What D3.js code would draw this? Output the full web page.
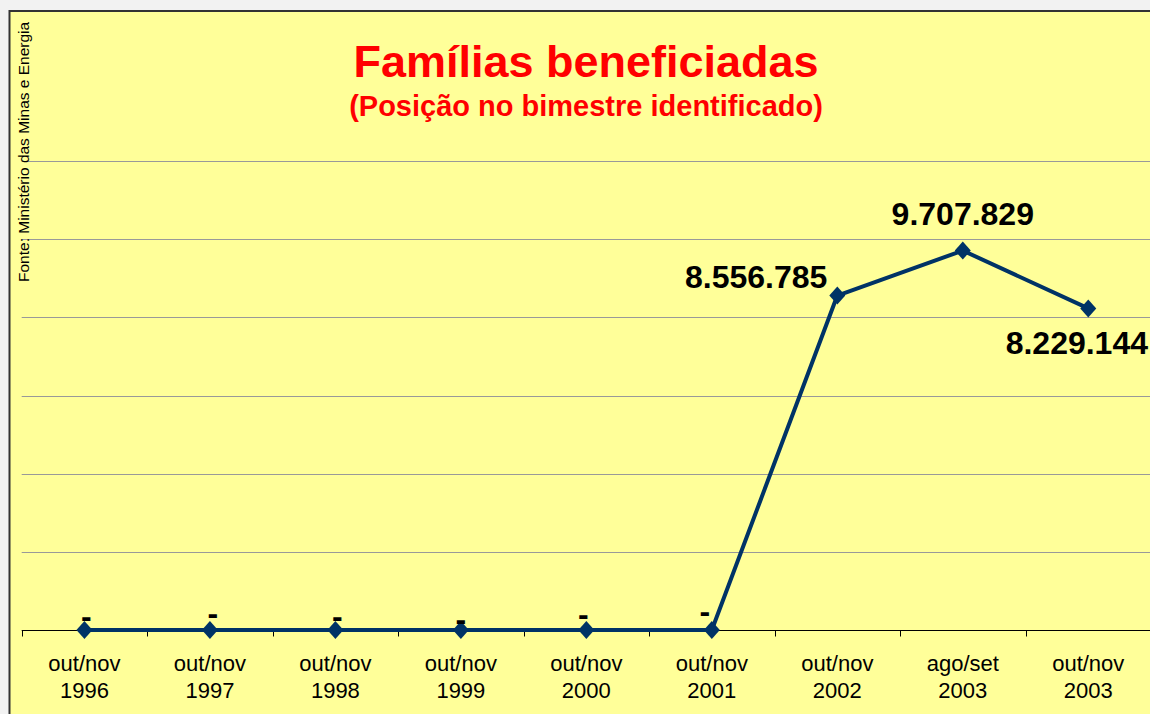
<!DOCTYPE html>
<html>
<head>
<meta charset="utf-8">
<script src="https://cdn.jsdelivr.net/npm/d3@7"></script>
<style>
  html, body { margin: 0; padding: 0; background: #f2f2f2; }
  svg { display: block; font-family: Arial, "Liberation Sans", sans-serif; }
</style>
</head>
<body>
<svg id="chart" width="1150" height="714"></svg>
<script>
//-- data --//
const periods = ["out/nov", "out/nov", "out/nov", "out/nov", "out/nov", "out/nov", "out/nov", "ago/set", "out/nov"];
const years = ["1996", "1997", "1998", "1999", "2000", "2001", "2002", "2003", "2003"];
const families = [0, 0, 0, 0, 0, 0, 8556785, 9707829, 8229144];
const labelPlace = ["above", "above", "above", "above", "above", "above", "left", "above", "below"];
const yTicks = [0, 2000000, 4000000, 6000000, 8000000, 10000000, 12000000];

const data = families.map((v, i) => ({key: i, period: periods[i], year: years[i], value: v, place: labelPlace[i]}));

// little nudges for the "-" labels, like the original placement
const dashNudge = [[2, -13], [3, -16], [2, -13], [0, -10], [-3, -15], [-7, -18]];

const width = 1150, height = 714;
const margin = {top: 161, right: -1, bottom: 84, left: 21.7};

const svg = d3.select("#chart");

// chart frame
svg.append("rect")
    .attr("x", 9.5).attr("y", 11)
    .attr("width", width + 10).attr("height", height + 10)
    .attr("fill", "#ffff99")
    .attr("stroke", "#333")
    .attr("stroke-width", 2);

const x = d3.scaleBand()
    .domain(data.map(d => d.key))
    .range([margin.left, width - margin.right]);

const y = d3.scaleLinear()
    .domain([0, 12000000])
    .range([height - margin.bottom, margin.top]);

const fmt = d3.formatLocale({decimal: ",", thousands: ".", grouping: [3], currency: ["R$", ""]}).format(",d");

// gridlines
svg.append("g")
    .selectAll("line")
    .data(yTicks.filter(d => d > 0))
    .join("line")
    .attr("x1", margin.left)
    .attr("x2", width)
    .attr("y1", d => Math.round(y(d)) + 0.5)
    .attr("y2", d => Math.round(y(d)) + 0.5)
    .attr("stroke", "#999")
    .attr("stroke-width", 1);

// x axis
const xAxis = g => g
    .attr("transform", `translate(0,${y(0) + 0.5})`)
    .call(d3.axisBottom(x).tickSize(0).tickFormat(""))
    .call(g => g.select(".domain").attr("stroke", "#000").attr("d", `M${margin.left},0H${width + 5}`))
    .call(g => g.selectAll(".tick").remove());

const axisG = svg.append("g").call(xAxis);

axisG.selectAll(".sep")
    .data(d3.range(data.length + 1))
    .join("line")
    .attr("class", "sep")
    .attr("x1", i => Math.round(margin.left + i * x.step()) + 0.5)
    .attr("x2", i => Math.round(margin.left + i * x.step()) + 0.5)
    .attr("y1", 0)
    .attr("y2", 6)
    .attr("stroke", "#000");

const cat = svg.append("g")
    .attr("font-size", 22)
    .attr("text-anchor", "middle")
    .attr("fill", "#000")
    .selectAll("text")
    .data(data)
    .join("text")
    .attr("x", d => x(d.key) + x.bandwidth() / 2);
cat.append("tspan").attr("y", 671).text(d => d.period);
cat.append("tspan").attr("x", d => x(d.key) + x.bandwidth() / 2).attr("y", 698).text(d => d.year);

// line
const line = d3.line()
    .x(d => x(d.key) + x.bandwidth() / 2)
    .y(d => y(d.value));

svg.append("path")
    .datum(data)
    .attr("fill", "none")
    .attr("stroke", "#003366")
    .attr("stroke-width", 4)
    .attr("stroke-linejoin", "round")
    .attr("d", line);

// diamonds
svg.append("g")
    .selectAll("path")
    .data(data)
    .join("path")
    .attr("transform", d => `translate(${x(d.key) + x.bandwidth() / 2},${y(d.value)})`)
    .attr("d", "M0,-9L8,0L0,9L-8,0Z")
    .attr("fill", "#003366");

// value labels
svg.append("g")
    .attr("font-size", 32)
    .attr("font-weight", "bold")
    .attr("fill", "#000")
    .selectAll("text")
    .data(data)
    .join("text")
    .attr("text-anchor", d => d.place === "left" ? "end" : d.place === "below" ? "end" : "middle")
    .attr("x", d => {
        const cx = x(d.key) + x.bandwidth() / 2;
        if (d.value === 0) return cx + dashNudge[d.key][0];
        if (d.place === "left") return cx - 10;
        if (d.place === "below") return width - 2;
        return cx;
    })
    .attr("y", d => {
        const cy = y(d.value);
        if (d.value === 0) return cy + dashNudge[d.key][1] + 10;
        if (d.place === "left") return cy - 8;
        if (d.place === "below") return cy + 46;
        return cy - 26;
    })
    .text(d => d.value === 0 ? "-" : fmt(d.value));

// titles
svg.append("text")
    .attr("x", 586).attr("y", 77)
    .attr("text-anchor", "middle")
    .attr("font-size", 45)
    .attr("font-weight", "bold")
    .attr("fill", "#ff0000")
    .text("Famílias beneficiadas");

svg.append("text")
    .attr("x", 586).attr("y", 116)
    .attr("text-anchor", "middle")
    .attr("font-size", 29)
    .attr("font-weight", "bold")
    .attr("fill", "#ff0000")
    .text("(Posição no bimestre identificado)");

svg.append("text")
    .attr("transform", "translate(29,282) rotate(-90)")
    .attr("font-size", 15.5)
    .attr("fill", "#000")
    .text("Fonte: Ministério das Minas e Energia");
</script>
</body>
</html>
